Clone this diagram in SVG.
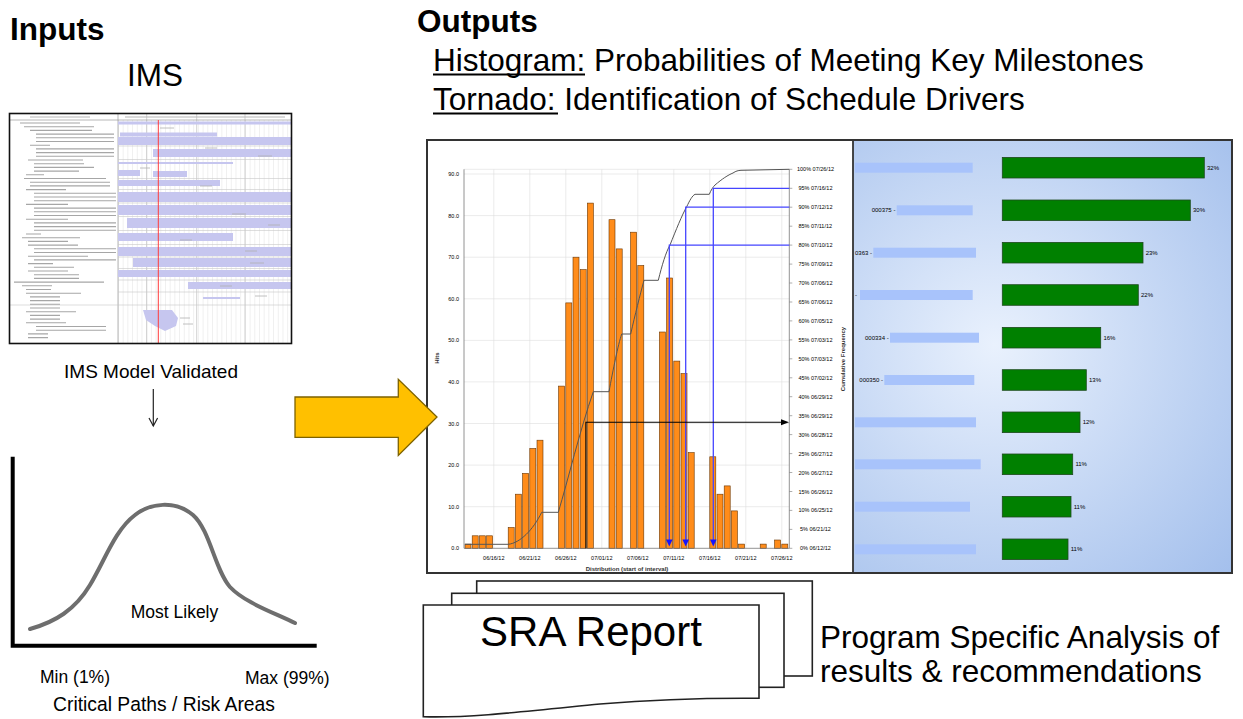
<svg xmlns="http://www.w3.org/2000/svg" width="1243" height="719" viewBox="0 0 1243 719">
<style>
text{font-family:"Liberation Sans",Arial,sans-serif;fill:#000}
.big{font-size:31.5px}
.bold{font-weight:bold}
.sm{font-size:19px}
.tiny{font-size:5.5px;fill:#333}
.ax{font-size:6px;fill:#333;font-weight:bold}
.pct{font-size:6px;fill:#333}
.bar{fill:#ff8c1a;stroke:#6a3500;stroke-width:0.6}
.tbar{fill:#008000;stroke:#1f4a1f;stroke-width:0.8}
.lbl{fill:#a8c3fb}
.grid{stroke:#dddddd;stroke-width:0.6}
.blue{stroke:#4545ff;stroke-width:1.3;fill:none}
.tri{fill:#1414ff}
.page{fill:#fff;stroke:#222;stroke-width:1.6}
.lav{fill:#c6c6ef}
.sep{stroke:#c8c8c8;stroke-width:0.6}
</style>
<defs>
<radialGradient id="tornBg" gradientUnits="userSpaceOnUse" cx="995" cy="345" r="330">
<stop offset="0" stop-color="#e9f1fd"/>
<stop offset="1" stop-color="#a3bfec"/>
</radialGradient>
<pattern id="ganttGrid" patternUnits="userSpaceOnUse" x="118" y="0" width="4.7" height="10">
<line x1="0.3" y1="0" x2="0.3" y2="10" stroke="#dadada" stroke-width="0.5"/>
</pattern>
</defs>

<!-- Titles -->
<g id="inputs-title">
<text class="big bold" x="10" y="40">Inputs</text>
<text class="big" x="127" y="86">IMS</text>
</g>

<g id="outputs-title">
<text class="big bold" x="417" y="32">Outputs</text>
<text class="big" x="433" y="71">Histogram: Probabilities of Meeting Key Milestones</text>
<line x1="433" y1="74.5" x2="585" y2="74.5" stroke="#000" stroke-width="1.8"/>
<text class="big" x="433" y="110">Tornado: Identification of Schedule Drivers</text>
<line x1="433" y1="113.5" x2="558" y2="113.5" stroke="#000" stroke-width="1.8"/>
</g>

<!-- IMS screenshot -->
<g id="ims">
<rect x="9.5" y="113.5" width="282" height="230" fill="#fff"/>
<rect x="118" y="120" width="173" height="223" fill="url(#ganttGrid)"/>
<g stroke="#bdbdbd" stroke-width="0.7">
<line x1="146.7" y1="113.5" x2="146.7" y2="343"/>
<line x1="196.7" y1="113.5" x2="196.7" y2="343"/>
<line x1="245" y1="113.5" x2="245" y2="343"/>
</g>
<line x1="9.5" y1="120" x2="291.5" y2="120" stroke="#999" stroke-width="0.7"/>
<line x1="118" y1="113.5" x2="118" y2="343" stroke="#999" stroke-width="0.7"/>
<path d="M30,117h60M125,117h160" stroke="#b5b5b5" stroke-width="1"/>
<g class="sep">
<line x1="118" y1="146" x2="291" y2="146"/>
<line x1="118" y1="159.5" x2="291" y2="159.5"/>
<line x1="118" y1="178.5" x2="291" y2="178.5"/>
<line x1="118" y1="189.5" x2="291" y2="189.5"/>
<line x1="118" y1="203" x2="291" y2="203"/>
<line x1="118" y1="216.5" x2="291" y2="216.5"/>
<line x1="118" y1="230.5" x2="291" y2="230.5"/>
<line x1="118" y1="244.5" x2="291" y2="244.5"/>
<line x1="118" y1="257" x2="291" y2="257"/>
<line x1="118" y1="268.5" x2="291" y2="268.5"/>
<line x1="118" y1="280" x2="291" y2="280"/>
<line x1="118" y1="292" x2="291" y2="292"/>
<line x1="9.5" y1="305" x2="291" y2="305"/>
</g>
<g class="lav">
<rect x="118" y="121.5" width="173" height="3"/>
<rect x="120" y="132.5" width="97" height="4"/>
<rect x="118" y="137" width="173" height="8"/>
<rect x="153" y="149" width="138" height="8"/>
<rect x="118" y="162" width="115" height="2"/>
<rect x="118" y="170" width="22" height="6"/>
<rect x="153" y="171" width="34" height="6"/>
<rect x="118" y="180" width="102" height="6"/>
<rect x="118" y="192" width="173" height="10"/>
<rect x="118" y="205" width="173" height="10"/>
<rect x="127" y="218" width="164" height="10"/>
<rect x="118" y="233" width="115" height="8"/>
<rect x="118" y="247" width="173" height="9"/>
<rect x="133" y="258" width="158" height="9"/>
<rect x="118" y="270" width="173" height="7"/>
<rect x="188" y="282" width="103" height="7"/>
<rect x="203" y="297" width="37" height="2"/>
<path d="M143,310 L172,310 L178,318 L176,326 L165,331 L155,326 L146,320 Z"/>
</g>
<path stroke="#a6a6a6" stroke-width="1.1" fill="none" d="M20,123h60M24,126.7h70M30,130.4h62M36,134.1h78M36,137.8h78M36,141.5h78M30,145.2h20M36,148.9h78M36,152.6h78M36,156.3h78M28,160h55M34,163.7h50M34,167.4h60M34,171.1h45M26,174.8h18M24,178.5h82M30,182.2h80M30,185.9h80M26,189.6h40M34,193.3h82M34,197h82M34,200.7h82M26,204.4h42M34,208.1h82M34,211.8h82M34,215.5h82M26,219.2h42M34,222.9h82M34,226.6h82M34,230.3h82M26,234h15M22,237.7h58M28,241.4h40M28,245.1h50M34,248.8h82M34,252.5h82M28,256.2h60M34,259.9h82M28,263.6h25M34,267.3h40M28,271h40M34,274.7h45M34,278.4h45M14,282.1h90M22,285.8h30M26,289.5h25M26,293.2h55M30,296.9h30M30,300.6h30M30,304.3h30M30,308h30M26,311.7h50M30,315.4h30M30,319.1h30M26,322.8h40M36,326.5h70M36,330.2h70M28,333.9h20M28,337.6h20"/>
<path stroke="#b0b0b0" stroke-width="0.8" fill="none" d="M160,128h14M205,148h12M258,156h14M140,168h10M200,186h12M232,214h14M268,225h12M180,240h12M245,251h12M250,263h14M220,286h12M255,296h12M180,318h10M183,324h10"/>
<line x1="158.3" y1="120" x2="158.3" y2="343" stroke="#ff3b3b" stroke-width="1"/>
<rect x="9.5" y="113.5" width="282" height="230" fill="none" stroke="#111" stroke-width="1.6"/>
</g>

<g id="ims-label">
<text class="sm" x="151" y="378" text-anchor="middle">IMS Model Validated</text>
</g>

<!-- Bell curve -->
<g id="bell">
<path d="M12.7,456.7 V645.7 H316.7" fill="none" stroke="#000" stroke-width="4"/>
<path d="M30,629 C55,622 75,610 90,585 C105,560 115,530 135,515 C150,503 175,500 193,515 C210,530 215,570 230,587 C245,603 275,613 295,623" fill="none" stroke="#6e6e6e" stroke-width="4" stroke-linecap="round"/>
<text x="174.5" y="618" text-anchor="middle" style="font-size:17.5px">Most Likely</text>
<text x="40" y="683" style="font-size:17.5px">Min (1%)</text>
<text x="245" y="684" style="font-size:17.5px">Max (99%)</text>
<text x="164" y="711" text-anchor="middle" style="font-size:19.3px">Critical Paths / Risk Areas</text>
</g>

<!-- Output chart panel -->
<g id="histogram">
<rect x="427" y="140" width="426" height="433" fill="#fff"/>
<g class="grid">
<line x1="464" y1="174" x2="789.3" y2="174"/>
<line x1="464" y1="215.6" x2="789.3" y2="215.6"/>
<line x1="464" y1="257.2" x2="789.3" y2="257.2"/>
<line x1="464" y1="298.8" x2="789.3" y2="298.8"/>
<line x1="464" y1="340.4" x2="789.3" y2="340.4"/>
<line x1="464" y1="381.9" x2="789.3" y2="381.9"/>
<line x1="464" y1="423.5" x2="789.3" y2="423.5"/>
<line x1="464" y1="465.1" x2="789.3" y2="465.1"/>
<line x1="464" y1="506.7" x2="789.3" y2="506.7"/>
<line x1="493.8" y1="169.3" x2="493.8" y2="548.3"/>
<line x1="529.8" y1="169.3" x2="529.8" y2="548.3"/>
<line x1="565.8" y1="169.3" x2="565.8" y2="548.3"/>
<line x1="601.8" y1="169.3" x2="601.8" y2="548.3"/>
<line x1="637.8" y1="169.3" x2="637.8" y2="548.3"/>
<line x1="673.8" y1="169.3" x2="673.8" y2="548.3"/>
<line x1="709.8" y1="169.3" x2="709.8" y2="548.3"/>
<line x1="745.8" y1="169.3" x2="745.8" y2="548.3"/>
<line x1="781.8" y1="169.3" x2="781.8" y2="548.3"/>
<line x1="464" y1="169.3" x2="789.3" y2="169.3"/>
</g>
<g>
<rect class="bar" x="465" y="544.1" width="6" height="4.2"/>
<rect class="bar" x="472.2" y="535.8" width="6" height="12.5"/>
<rect class="bar" x="479.4" y="535.8" width="6" height="12.5"/>
<rect class="bar" x="486.6" y="535.8" width="6" height="12.5"/>
<rect class="bar" x="508.2" y="527.5" width="6" height="20.8"/>
<rect class="bar" x="515.4" y="494.2" width="6" height="54.1"/>
<rect class="bar" x="522.6" y="473.4" width="6" height="74.9"/>
<rect class="bar" x="529.8" y="448.5" width="6" height="99.8"/>
<rect class="bar" x="537" y="440.2" width="6" height="108.1"/>
<rect class="bar" x="558.6" y="386.1" width="6" height="162.2"/>
<rect class="bar" x="565.8" y="302.9" width="6" height="245.4"/>
<rect class="bar" x="573" y="257.2" width="6" height="291.1"/>
<rect class="bar" x="580.2" y="269.6" width="6" height="278.7"/>
<rect class="bar" x="587.4" y="203.1" width="6" height="345.2"/>
<rect class="bar" x="609" y="219.7" width="6" height="328.6"/>
<rect class="bar" x="616.2" y="248.9" width="6" height="299.4"/>
<rect class="bar" x="630.6" y="232.2" width="6" height="316.1"/>
<rect class="bar" x="637.8" y="265.5" width="6" height="282.8"/>
<rect class="bar" x="659.4" y="332" width="6" height="216.3"/>
<rect class="bar" x="666.6" y="278" width="6" height="270.3"/>
<rect class="bar" x="673.8" y="361.1" width="6" height="187.2"/>
<rect class="bar" x="681" y="373.6" width="6" height="174.7"/>
<rect class="bar" x="688.2" y="452.6" width="6" height="95.7"/>
<rect class="bar" x="709.8" y="456.8" width="6" height="91.5"/>
<rect class="bar" x="717" y="494.2" width="6" height="54.1"/>
<rect class="bar" x="724.2" y="485.9" width="6" height="62.4"/>
<rect class="bar" x="731.4" y="510.9" width="6" height="37.4"/>
<rect class="bar" x="738.6" y="544.1" width="6" height="4.2"/>
<rect class="bar" x="760.2" y="544.1" width="6" height="4.2"/>
<rect class="bar" x="774.6" y="540" width="6" height="8.3"/>
<rect class="bar" x="781.8" y="544.1" width="6" height="4.2"/>
</g>
<g stroke="#777" stroke-width="0.8">
<line x1="464" y1="169.3" x2="464" y2="548.3"/>
<line x1="464" y1="548.3" x2="789.3" y2="548.3"/>
<line x1="789.3" y1="169.3" x2="789.3" y2="548.3"/>
</g>
<path d="M789.3,169.3h3M789.3,188.3h3M789.3,207.2h3M789.3,226.2h3M789.3,245.1h3M789.3,264.1h3M789.3,283h3M789.3,302h3M789.3,320.9h3M789.3,339.9h3M789.3,358.8h3M789.3,377.8h3M789.3,396.7h3M789.3,415.7h3M789.3,434.6h3M789.3,453.6h3M789.3,472.5h3M789.3,491.5h3M789.3,510.4h3M789.3,529.4h3M789.3,548.3h3" stroke="#777" stroke-width="0.6"/>
<path d="M465,544.3 L508.3,544.3 C520,543 533,530 541.7,512.3 L558.3,512.3 C568,480 580,430 593.3,391.7 L609,391.7 C613,370 618,345 621.7,334 L630.7,334 C635,315 640,295 644,280.3 L658.3,280.3 C662,265 666,252 670,245 C676,230 682,215 686.7,206.7 C690,200 692,196 695,194.3 L709.3,194.3 C711,190 713,187 715,185 C722,179 728,175 733,173 C736,171 738,170.5 741,170.3 L789.3,169.3" fill="none" stroke="#555" stroke-width="1"/>
<g class="blue">
<path d="M669.3,541 V245.1 H789.3"/>
<path d="M685.7,541 V207.2 H789.3"/>
<path d="M713.3,541 V188.3 H789.3"/>
</g>
<g class="tri">
<path d="M666,539.5 H672.6 L669.3,546.5 Z"/>
<path d="M682.4,539.5 H689 L685.7,546.5 Z"/>
<path d="M710,539.5 H716.6 L713.3,546.5 Z"/>
</g>
<path d="M585.9,548.3 V422.3 H783" fill="none" stroke="#000" stroke-width="1.1"/>
<path d="M789,422.3 L781,419.3 L781,425.3 Z" fill="#000"/>
<g class="tiny" text-anchor="end">
<text x="459" y="176">90.0</text>
<text x="459" y="217.6">80.0</text>
<text x="459" y="259.2">70.0</text>
<text x="459" y="300.8">60.0</text>
<text x="459" y="342.4">50.0</text>
<text x="459" y="383.9">40.0</text>
<text x="459" y="425.5">30.0</text>
<text x="459" y="467.1">20.0</text>
<text x="459" y="508.7">10.0</text>
<text x="459" y="550.3">0.0</text>
</g>
<g class="tiny" text-anchor="middle">
<text x="493.8" y="560">06/16/12</text>
<text x="529.8" y="560">06/21/12</text>
<text x="565.8" y="560">06/26/12</text>
<text x="601.8" y="560">07/01/12</text>
<text x="637.8" y="560">07/06/12</text>
<text x="673.8" y="560">07/11/12</text>
<text x="709.8" y="560">07/16/12</text>
<text x="745.8" y="560">07/21/12</text>
<text x="781.8" y="560">07/26/12</text>
</g>
<g class="tiny">
<text x="797" y="171.3">100%  07/26/12</text>
<text x="798.5" y="190.3">95%  07/16/12</text>
<text x="798.5" y="209.2">90%  07/12/12</text>
<text x="798.5" y="228.2">85%  07/11/12</text>
<text x="798.5" y="247.1">80%  07/10/12</text>
<text x="798.5" y="266.1">75%  07/09/12</text>
<text x="798.5" y="285">70%  07/06/12</text>
<text x="798.5" y="304">65%  07/06/12</text>
<text x="798.5" y="322.9">60%  07/05/12</text>
<text x="798.5" y="341.9">55%  07/03/12</text>
<text x="798.5" y="360.8">50%  07/03/12</text>
<text x="798.5" y="379.8">45%  07/02/12</text>
<text x="798.5" y="398.7">40%  06/29/12</text>
<text x="798.5" y="417.7">35%  06/29/12</text>
<text x="798.5" y="436.6">30%  06/28/12</text>
<text x="798.5" y="455.6">25%  06/27/12</text>
<text x="798.5" y="474.5">20%  06/27/12</text>
<text x="798.5" y="493.5">15%  06/26/12</text>
<text x="798.5" y="512.4">10%  06/25/12</text>
<text x="800" y="531.4">5%  06/21/12</text>
<text x="800" y="550.3">0%  06/12/12</text>
</g>
<text class="ax" x="627" y="570.5" text-anchor="middle">Distribution (start of interval)</text>
<text class="ax" transform="translate(439,358) rotate(-90)" text-anchor="middle">Hits</text>
<text class="ax" transform="translate(845,359) rotate(-90)" text-anchor="middle">Cumulative Frequency</text>
</g>

<g id="tornado">
<rect x="853" y="140" width="379" height="433" fill="url(#tornBg)"/>
<g class="lbl">
<rect x="855" y="162.7" width="117.7" height="10"/>
<rect x="896.7" y="205.3" width="76" height="10"/>
<rect x="873.3" y="247.7" width="102.7" height="10"/>
<rect x="860" y="290" width="112.7" height="10"/>
<rect x="890" y="332.7" width="89" height="10"/>
<rect x="884.3" y="375" width="90" height="10"/>
<rect x="855" y="417.3" width="121" height="10"/>
<rect x="855" y="459.3" width="125.7" height="10"/>
<rect x="855" y="501.7" width="115" height="10"/>
<rect x="855" y="544.3" width="121" height="10"/>
</g>
<g class="pct" style="fill:#555">
<text x="871.7" y="212.3">000375 -</text>
<text x="855" y="254.7">0363 -</text>
<text x="855" y="297">-</text>
<text x="865" y="339.7">000334 -</text>
<text x="859.3" y="382">000350 -</text>
</g>
<g>
<rect class="tbar" x="1002.3" y="157.4" width="202" height="20.6"/>
<rect class="tbar" x="1002.3" y="200" width="188" height="20.6"/>
<rect class="tbar" x="1002.3" y="242.4" width="140.7" height="20.6"/>
<rect class="tbar" x="1002.3" y="284.7" width="136" height="20.6"/>
<rect class="tbar" x="1002.3" y="327.4" width="98.4" height="20.6"/>
<rect class="tbar" x="1002.3" y="369.7" width="84" height="20.6"/>
<rect class="tbar" x="1002.3" y="412" width="77.7" height="20.6"/>
<rect class="tbar" x="1002.3" y="454" width="70.4" height="20.6"/>
<rect class="tbar" x="1002.3" y="496.4" width="68.7" height="20.6"/>
<rect class="tbar" x="1002.3" y="539" width="65.7" height="20.6"/>
</g>
<g class="pct">
<text x="1207" y="169.7">32%</text>
<text x="1193" y="212.3">30%</text>
<text x="1145.7" y="254.7">23%</text>
<text x="1141" y="297">22%</text>
<text x="1103.4" y="339.7">16%</text>
<text x="1089" y="382">13%</text>
<text x="1082.7" y="424.3">12%</text>
<text x="1075.4" y="466.3">11%</text>
<text x="1073.7" y="508.7">11%</text>
<text x="1070.7" y="551.3">11%</text>
</g>
</g>

<g id="chart-frame">
<rect x="427" y="140" width="805" height="433" fill="none" stroke="#333" stroke-width="2"/>
<line x1="853" y1="140" x2="853" y2="573" stroke="#333" stroke-width="1.8"/>
</g>

<!-- SRA report stack -->
<g id="sra-report">
<rect class="page" x="476.7" y="581" width="335.6" height="95"/>
<rect class="page" x="451.7" y="593.3" width="332.3" height="94"/>
<path class="page" d="M423.3,605 H759 V698.3 C720,698 660,699 600,704 C520,712 470,718 423.3,716.7 Z"/>
<text x="591" y="646" text-anchor="middle" style="font-size:42px">SRA Report</text>
</g>

<g id="analysis-text">
<text class="big" x="820" y="648">Program Specific Analysis of</text>
<text class="big" x="820" y="682">results &amp; recommendations</text>
</g>

<!-- Connectors -->
<g id="connectors">
<g id="validated-arrow" fill="none" stroke="#222" stroke-width="1.2">
<line x1="153.3" y1="389" x2="153.3" y2="426"/>
<polyline points="149,418 153.3,426 157.6,418"/>
</g>
<polygon id="big-arrow" points="295,397 398.3,397 398.3,379.3 437,417 398.3,455.5 398.3,437.3 295,437.3" fill="#ffc000" stroke="#7d6200" stroke-width="1.3"/>
</g>
</svg>
